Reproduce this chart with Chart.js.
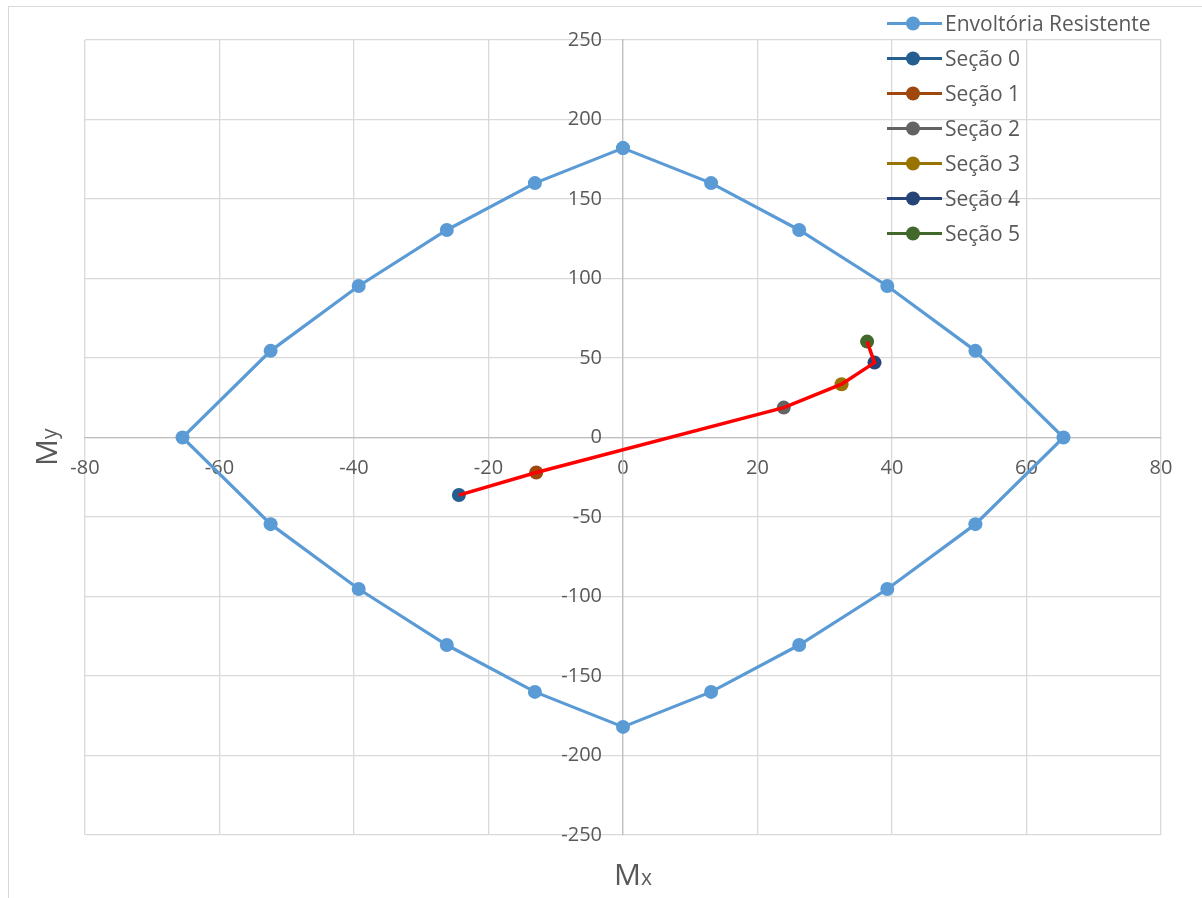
<!DOCTYPE html>
<html>
<head>
<meta charset="utf-8">
<script src="https://cdn.jsdelivr.net/npm/chart.js@4/dist/chart.umd.min.js"></script>
<style>
  html, body { margin: 0; padding: 0; background: #fff; overflow: hidden; }
  #frame { position: absolute; left: 8px; top: 6px; width: 1400px; height: 1100px; border: 1px solid #d9d9d9; }
  #wrap { position: absolute; left: 0; top: 0; width: 1202px; height: 898px; }
</style>
</head>
<body>
<div id="frame"></div>
<div id="wrap"><canvas id="chart" width="1202" height="898"></canvas></div>
<script>
// envelope of resisting moments (Mx, My)
const envMx = [0, 13.1, 26.2, 39.3, 52.4, 65.5, 52.4, 39.3, 26.2, 13.1, 0, -13.1, -26.2, -39.3, -52.4, -65.5, -52.4, -39.3, -26.2, -13.1, 0];
const envMy = [182, 160, 130.5, 95.3, 54.5, 0, -54.5, -95.3, -130.5, -160, -182, -160, -130.5, -95.3, -54.5, 0, 54.5, 95.3, 130.5, 160, 182];

// acting moments per section
const sectionNames = ['Seção 0', 'Seção 1', 'Seção 2', 'Seção 3', 'Seção 4', 'Seção 5'];
const sectionMx = [-24.4, -12.9, 23.9, 32.5, 37.4, 36.3];
const sectionMy = [-36.2, -22.0, 18.8, 33.5, 47.1, 60.3];
const sectionColors = ['#255E91', '#9E480E', '#636363', '#997300', '#264478', '#43682B'];

const xTicks = [-80, -60, -40, -20, 0, 20, 40, 60, 80];
const yTicks = [-250, -200, -150, -100, -50, 0, 50, 100, 150, 200, 250];

const FONT = '"Open Sans", Calibri, sans-serif';
const TEXT = '#595959';

const datasets = [{
  label: 'Envoltória Resistente',
  data: envMx.map((x, i) => ({ x, y: envMy[i] })),
  showLine: true,
  tension: 0,
  borderColor: '#5B9BD5',
  backgroundColor: '#5B9BD5',
  borderWidth: 3.2,
  pointRadius: 7,
  pointBorderWidth: 0,
  order: 1
}];

sectionNames.forEach((name, i) => {
  datasets.push({
    label: name,
    data: [{ x: sectionMx[i], y: sectionMy[i] }],
    borderColor: sectionColors[i],
    backgroundColor: sectionColors[i],
    pointRadius: 7,
    pointBorderWidth: 0,
    order: 2
  });
});

// path joining the sections, drawn over the markers
datasets.push({
  label: 'path',
  data: sectionMx.map((x, i) => ({ x, y: sectionMy[i] })),
  showLine: true,
  borderColor: '#FF0000',
  borderWidth: 3.5,
  pointRadius: 0,
  order: 0,
  inLegend: false
});

const decor = {
  id: 'decor',
  beforeDraw(chart) {
    // keep the My tick labels clear of the vertical axis line
    chart.scales.y.getLabelItems(chart.chartArea).forEach(it => {
      if (!it.shifted) {
        it.options.translation[0] -= 21;
        it.shifted = true;
      }
    });
  },
  afterDraw(chart) {
    const ctx = chart.ctx;
    ctx.save();
    // legend
    let y = 23.5;
    const lx = chart.chartArea.right - 274;
    chart.data.datasets.forEach(ds => {
      if (ds.inLegend === false) return;
      ctx.strokeStyle = ds.borderColor;
      ctx.lineWidth = 3;
      ctx.beginPath();
      ctx.moveTo(lx, y);
      ctx.lineTo(lx + 55, y);
      ctx.stroke();
      ctx.fillStyle = ds.backgroundColor;
      ctx.beginPath();
      ctx.arc(lx + 26, y, 7, 0, Math.PI * 2);
      ctx.fill();
      ctx.fillStyle = TEXT;
      ctx.font = '21px ' + FONT;
      ctx.textBaseline = 'middle';
      ctx.textAlign = 'left';
      ctx.fillText(ds.label, lx + 58, y + 2);
      y += 35;
    });

    // axis titles with subscripts
    ctx.fillStyle = TEXT;
    ctx.textBaseline = 'alphabetic';
    ctx.textAlign = 'left';
    ctx.font = '30px ' + FONT;
    const mw = ctx.measureText('M').width;
    ctx.fillText('M', 614, 885);
    ctx.font = '21px ' + FONT;
    ctx.fillText('x', 614 + mw, 885);

    ctx.translate(57, 466);
    ctx.rotate(-Math.PI / 2);
    ctx.font = '30px ' + FONT;
    ctx.fillText('M', 0, 0);
    ctx.font = '21px ' + FONT;
    ctx.fillText('y', mw, 0);
    ctx.restore();
  }
};

new Chart(document.getElementById('chart'), {
  type: 'scatter',
  data: { datasets },
  options: {
    responsive: false,
    animation: false,
    events: [],
    layout: { padding: { left: 85, right: 41, top: 40, bottom: 63 } },
    plugins: { legend: { display: false }, tooltip: { enabled: false } },
    scales: {
      x: {
        type: 'linear',
        min: -80,
        max: 80,
        position: { y: 0 },
        afterBuildTicks: s => { s.ticks = xTicks.map(v => ({ value: v })); },
        grid: { color: '#d9d9d9', lineWidth: 1.3, drawTicks: false },
        border: { color: '#bfbfbf', width: 1.3 },
        ticks: { color: TEXT, font: { family: FONT, size: 20 }, padding: 19, maxRotation: 0 }
      },
      y: {
        type: 'linear',
        min: -250,
        max: 250,
        position: { x: 0 },
        afterBuildTicks: s => { s.ticks = yTicks.map(v => ({ value: v })); },
        grid: { color: '#d9d9d9', lineWidth: 1.3, drawTicks: false },
        border: { color: '#bfbfbf', width: 1.3 },
        ticks: { color: TEXT, font: { family: FONT, size: 20 } }
      }
    }
  },
  plugins: [decor]
});
</script>
</body>
</html>
